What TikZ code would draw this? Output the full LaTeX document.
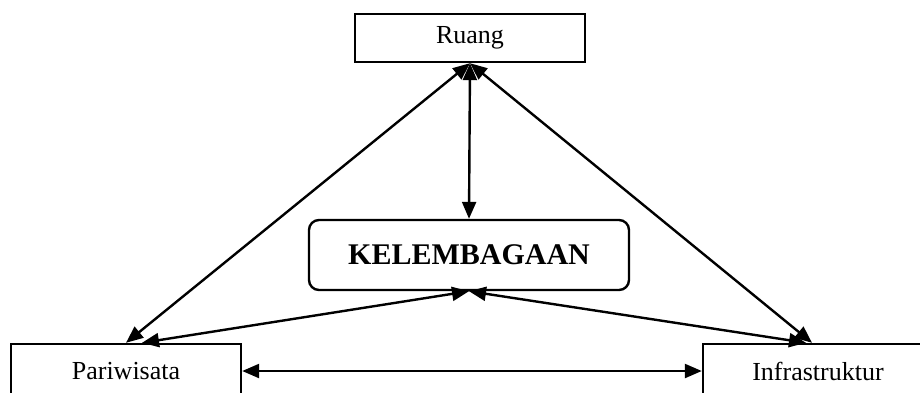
\documentclass[tikz,border=0pt]{standalone}
\usepackage{fontspec}
\setmainfont{Liberation Serif}
\usetikzlibrary{arrows.meta}
\begin{document}
\begin{tikzpicture}[x=1pt,y=-1pt,
  box/.style={draw,line width=2.4pt,rectangle,minimum width=230pt,inner sep=0pt,font=\fontsize{26}{30}\selectfont},
  conn/.style={line width=2.4pt,{Triangle[length=17pt,width=14pt]}-{Triangle[length=17pt,width=14pt]}}]
\path[use as bounding box,clip] (0,0) rectangle (920,392);
\fill[white] (0,0) rectangle (920,392);
\node[box,minimum height=48pt] (ruang) at (470,38) {Ruang};
\node[box,minimum height=54pt] (pari) at (126,371) {Pariwisata};
\node[box,minimum height=54pt] (infra) at (818,371) {Infrastruktur};
\node[draw,line width=2.4pt,rounded corners=10pt,minimum width=320pt,minimum height=70pt,inner sep=0pt,font=\fontsize{30}{34}\selectfont\bfseries] (kel) at (469,255) {KELEMBAGAAN};
\draw[conn] (ruang.south) -- (kel.north);
\draw[conn] (pari.north) -- (ruang.south);
\draw[conn] ([xshift=-6pt]infra.north) -- (ruang.south);
\draw[conn] ([xshift=16pt]pari.north) -- (kel.south);
\draw[conn] ([xshift=-12pt]infra.north) -- (kel.south);
\draw[conn] (pari.east) -- (infra.west);
\end{tikzpicture}
\end{document}
